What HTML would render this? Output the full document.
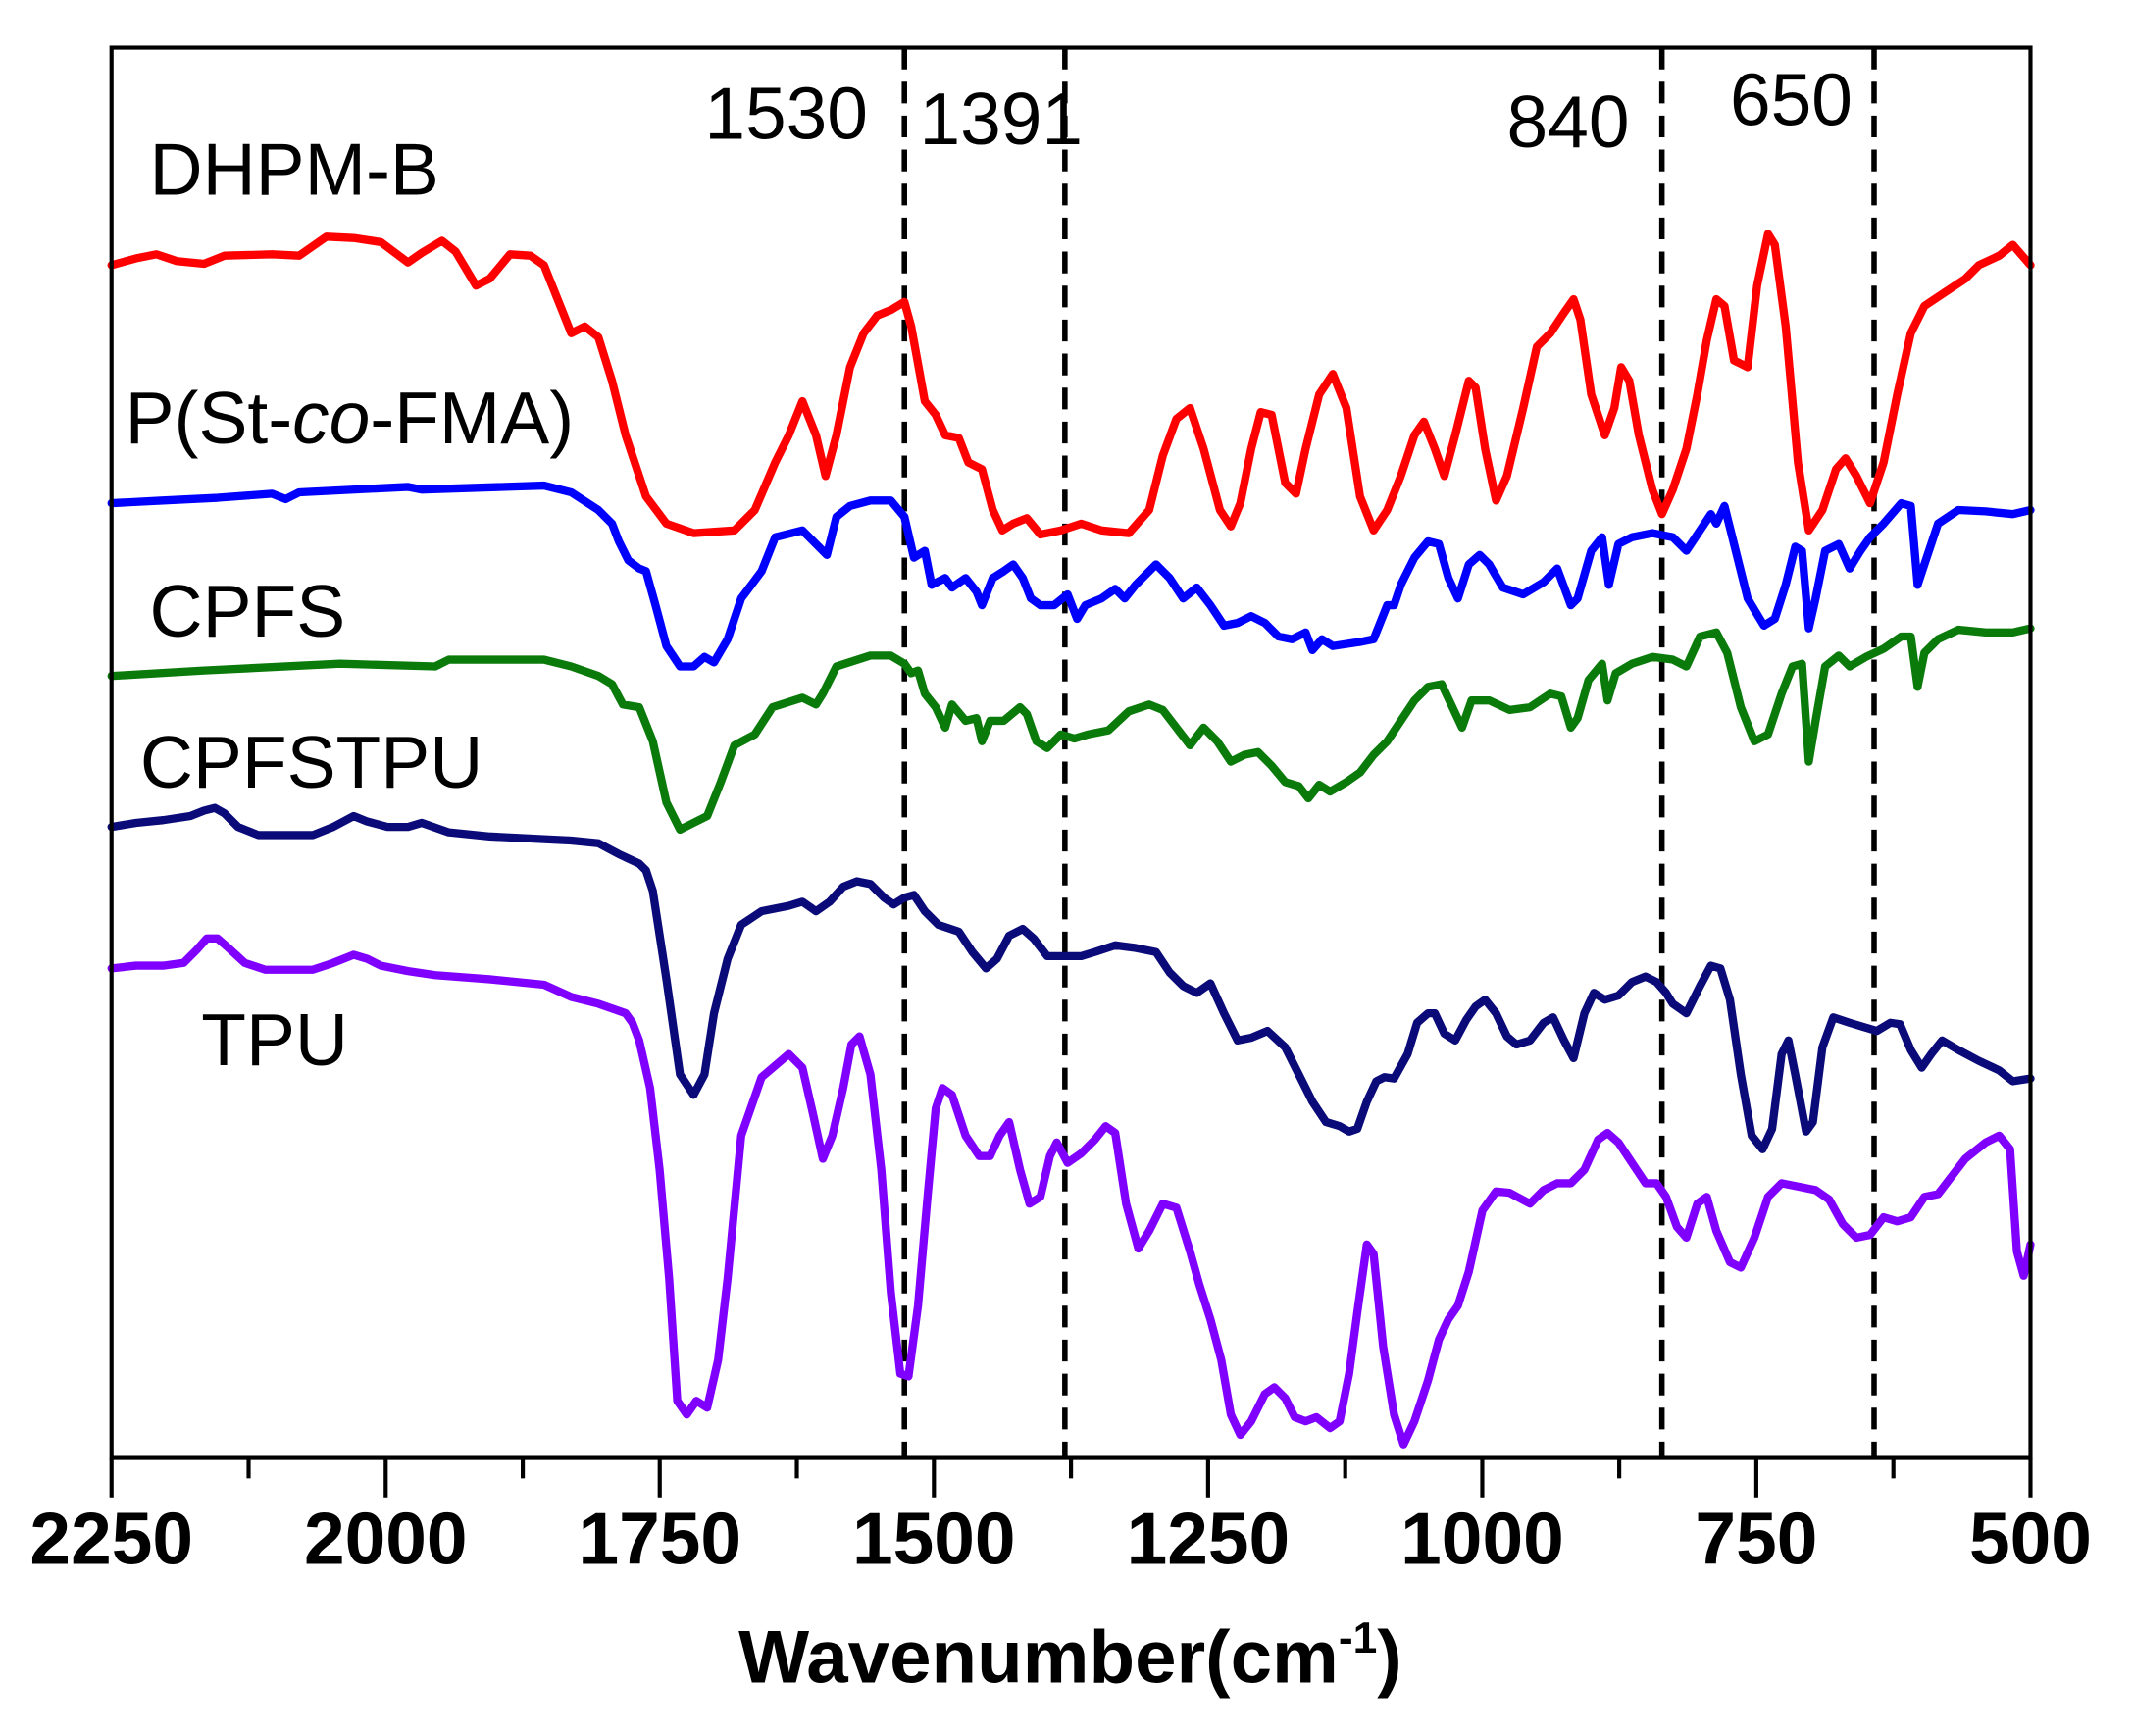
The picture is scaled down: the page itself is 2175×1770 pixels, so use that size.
<!DOCTYPE html>
<html><head><style>html,body{margin:0;padding:0;background:#fff}svg{display:block}</style></head>
<body>
<svg width="2175" height="1770" viewBox="0 0 1561 1270.4" preserveAspectRatio="none" xmlns="http://www.w3.org/2000/svg" font-family="Liberation Sans, Arial, sans-serif">
<rect width="1561" height="1271" fill="#fff"/>
<g transform="scale(0.9953)">
<g stroke="#000" stroke-width="4" stroke-dasharray="16,9">
<line x1="665" y1="35" x2="665" y2="1072"/>
<line x1="783" y1="35" x2="783" y2="1072"/>
<line x1="1222" y1="35" x2="1222" y2="1072"/>
<line x1="1378" y1="35" x2="1378" y2="1072"/>
</g>
<g fill="none" stroke-width="6" stroke-linejoin="round" stroke-linecap="round">
<polyline stroke="#ff0000" points="82,195 100,190 115,187 130,192 150,194 165,188 200,187 220,188 240,174 260,175 280,178 300,193 310,186 325,177 335,185 350,210 360,205 375,187 390,188 400,195 410,220 420,245 430,240 440,248 450,280 460,320 475,365 490,385 510,392 540,390 555,375 570,340 580,320 590,295 600,320 607,350 615,320 625,270 635,245 645,232 655,228 665,222 670,240 680,295 688,305 695,320 705,322 712,340 722,345 730,375 737,390 745,385 755,381 765,393 780,390 795,385 810,390 830,392 845,375 855,335 865,308 875,300 885,330 897,375 905,387 912,370 920,330 927,303 935,305 945,355 953,363 960,330 970,290 980,275 990,300 1000,365 1010,390 1020,375 1030,350 1040,320 1047,310 1055,330 1062,350 1070,320 1080,280 1085,285 1092,330 1100,368 1108,350 1120,300 1130,255 1140,245 1150,230 1157,220 1162,235 1170,290 1180,320 1187,300 1192,270 1198,280 1205,320 1215,360 1222,378 1230,360 1240,330 1248,290 1255,250 1262,220 1268,225 1275,265 1285,270 1292,210 1300,172 1305,180 1313,240 1322,340 1330,390 1340,375 1350,345 1357,337 1365,350 1375,370 1385,340 1395,290 1405,245 1415,225 1430,215 1445,205 1455,195 1470,188 1480,180 1493,195"/>
<polyline stroke="#0000ff" points="82,370 120,368 160,366 200,363 210,367 220,362 300,358 310,360 400,357 420,362 440,375 450,385 455,398 462,412 470,418 475,420 482,445 490,475 500,490 510,490 518,483 525,487 535,470 545,440 560,420 570,395 590,390 600,400 608,408 615,380 625,372 640,368 655,368 665,380 672,410 680,405 685,430 695,425 700,432 710,425 718,435 722,445 730,425 738,420 745,415 752,425 758,440 765,445 775,445 785,437 792,455 798,445 810,440 820,433 827,440 835,430 850,415 860,425 870,440 880,432 890,445 900,460 910,458 920,453 930,458 940,468 950,470 960,465 965,478 972,470 980,475 1000,472 1010,470 1020,445 1025,445 1030,430 1040,410 1050,398 1058,400 1065,425 1072,440 1080,415 1088,408 1095,415 1105,432 1120,437 1135,428 1145,418 1155,445 1160,440 1170,405 1178,395 1183,430 1190,400 1200,395 1215,392 1230,395 1240,405 1250,390 1258,378 1262,385 1268,372 1275,400 1285,440 1297,460 1305,455 1313,430 1320,402 1325,405 1330,462 1335,440 1342,405 1352,400 1360,418 1368,405 1375,395 1385,385 1398,370 1405,372 1410,430 1415,415 1425,385 1440,375 1460,376 1480,378 1493,375"/>
<polyline stroke="#0a7a0a" points="82,497 150,493 250,488 320,490 330,485 400,485 420,490 440,497 450,503 458,518 470,520 480,545 490,590 500,610 510,605 520,600 530,575 540,548 555,540 568,520 590,513 600,518 605,510 615,490 640,482 655,482 665,488 670,495 675,493 680,510 688,520 695,535 700,518 710,530 718,528 722,545 728,530 738,530 750,520 755,525 762,545 770,550 780,540 790,543 800,540 815,537 830,523 845,518 855,522 865,535 875,548 885,535 895,545 905,560 915,555 925,553 935,563 945,575 955,578 962,587 970,577 978,582 990,575 1000,568 1010,555 1020,545 1030,530 1040,515 1050,505 1060,503 1068,520 1075,535 1082,515 1095,515 1110,522 1125,520 1140,510 1148,512 1155,535 1160,528 1168,500 1178,488 1182,515 1188,495 1200,488 1215,483 1230,485 1240,490 1250,468 1262,465 1270,480 1280,520 1290,545 1300,540 1310,510 1318,490 1325,488 1330,560 1335,530 1342,490 1352,482 1360,490 1372,483 1385,477 1398,468 1405,468 1410,505 1415,480 1425,470 1440,463 1460,465 1480,465 1493,462"/>
<polyline stroke="#0a0a78" points="82,608 100,605 120,603 140,600 150,596 158,594 165,598 175,608 190,614 230,614 245,608 260,600 270,604 285,608 300,608 310,605 330,612 360,615 400,617 420,618 440,620 455,628 470,635 475,640 480,655 490,720 500,790 510,805 518,790 525,745 535,705 545,680 560,670 580,666 590,663 600,670 610,663 620,652 630,648 640,650 650,660 657,665 665,660 672,658 680,670 690,680 705,685 715,700 725,712 733,705 742,688 752,683 760,690 770,703 780,703 795,703 805,700 820,695 835,697 850,700 860,715 870,725 880,730 890,723 900,745 910,765 920,763 932,758 945,770 955,790 965,810 975,825 985,828 992,832 998,830 1005,810 1012,795 1018,792 1025,793 1035,775 1042,752 1050,745 1055,745 1062,760 1070,765 1078,750 1085,740 1092,735 1100,745 1108,762 1115,768 1125,765 1135,752 1142,748 1150,765 1157,778 1165,745 1172,730 1180,735 1190,732 1200,722 1210,718 1218,722 1225,730 1230,738 1240,745 1250,725 1258,710 1265,712 1272,735 1280,790 1288,835 1296,845 1303,830 1310,775 1315,765 1320,790 1328,832 1333,825 1340,770 1348,748 1360,752 1370,755 1380,758 1390,752 1397,753 1405,772 1413,785 1420,775 1428,765 1440,772 1455,780 1470,787 1480,795 1493,793"/>
<polyline stroke="#8000ff" points="82,712 100,710 120,710 135,708 145,698 152,690 160,690 168,697 180,708 195,713 230,713 245,708 260,702 270,705 280,710 300,714 320,717 360,720 400,724 420,733 440,738 460,745 465,752 470,765 478,800 485,860 492,940 498,1030 505,1040 512,1030 520,1035 528,1000 535,940 545,835 560,792 580,775 590,785 598,820 605,852 612,835 620,800 626,768 632,762 640,790 648,860 655,950 662,1010 668,1012 675,960 682,880 688,815 693,800 700,805 710,835 720,850 728,850 735,835 742,825 750,860 757,885 765,880 772,850 777,840 785,855 795,848 805,838 813,828 820,833 828,885 837,918 845,905 855,885 865,888 875,920 882,945 890,970 898,1000 905,1040 912,1055 920,1045 930,1025 937,1020 945,1028 952,1042 960,1045 968,1042 978,1050 985,1045 992,1010 998,965 1005,915 1010,922 1017,990 1025,1040 1032,1062 1040,1045 1050,1015 1058,985 1065,970 1072,960 1080,935 1090,890 1100,876 1110,877 1125,885 1135,875 1145,870 1155,870 1165,860 1175,838 1182,833 1190,840 1200,855 1210,870 1218,870 1225,880 1233,902 1240,910 1248,885 1255,880 1262,905 1272,928 1280,932 1290,910 1300,880 1310,870 1320,872 1335,875 1345,882 1355,900 1365,910 1375,908 1385,895 1395,898 1405,895 1415,880 1425,878 1435,865 1445,852 1460,840 1470,835 1478,845 1483,920 1488,938 1493,915"/>
</g>
<rect x="82" y="35" width="1411" height="1037" fill="none" stroke="#000" stroke-width="3"/>
<g stroke="#000" stroke-width="3">
<line x1="82" y1="1072" x2="82" y2="1101"/><line x1="283.6" y1="1072" x2="283.6" y2="1101"/><line x1="485.1" y1="1072" x2="485.1" y2="1101"/><line x1="686.7" y1="1072" x2="686.7" y2="1101"/><line x1="888.3" y1="1072" x2="888.3" y2="1101"/><line x1="1089.9" y1="1072" x2="1089.9" y2="1101"/><line x1="1291.4" y1="1072" x2="1291.4" y2="1101"/><line x1="1493" y1="1072" x2="1493" y2="1101"/>
<line x1="182.8" y1="1072" x2="182.8" y2="1087"/><line x1="384.4" y1="1072" x2="384.4" y2="1087"/><line x1="585.9" y1="1072" x2="585.9" y2="1087"/><line x1="787.5" y1="1072" x2="787.5" y2="1087"/><line x1="989.1" y1="1072" x2="989.1" y2="1087"/><line x1="1190.6" y1="1072" x2="1190.6" y2="1087"/><line x1="1392.2" y1="1072" x2="1392.2" y2="1087"/>
</g>
<g font-size="54" font-weight="bold" text-anchor="middle" fill="#000">
<text x="82" y="1150">2250</text><text x="283.6" y="1150">2000</text><text x="485.1" y="1150">1750</text><text x="686.7" y="1150">1500</text><text x="888.3" y="1150">1250</text><text x="1089.9" y="1150">1000</text><text x="1291.4" y="1150">750</text><text x="1493" y="1150">500</text>
</g>
<text x="787" y="1237" font-size="55" font-weight="bold" text-anchor="middle">Wavenumber(cm<tspan font-size="32" dy="-22">-1</tspan><tspan dy="22">)</tspan></text>
<g font-size="54" fill="#000">
<text x="110" y="143">DHPM-B</text>
<text x="92" y="326">P(St-<tspan font-style="italic">co</tspan>-FMA)</text>
<text x="110" y="468">CPFS</text>
<text x="103" y="579">CPFSTPU</text>
<text x="148" y="783">TPU</text>
<text x="518" y="102">1530</text>
<text x="676" y="106">1391</text>
<text x="1108" y="108">840</text>
<text x="1272" y="92">650</text>
</g>
</g>
</svg>
</body></html>
